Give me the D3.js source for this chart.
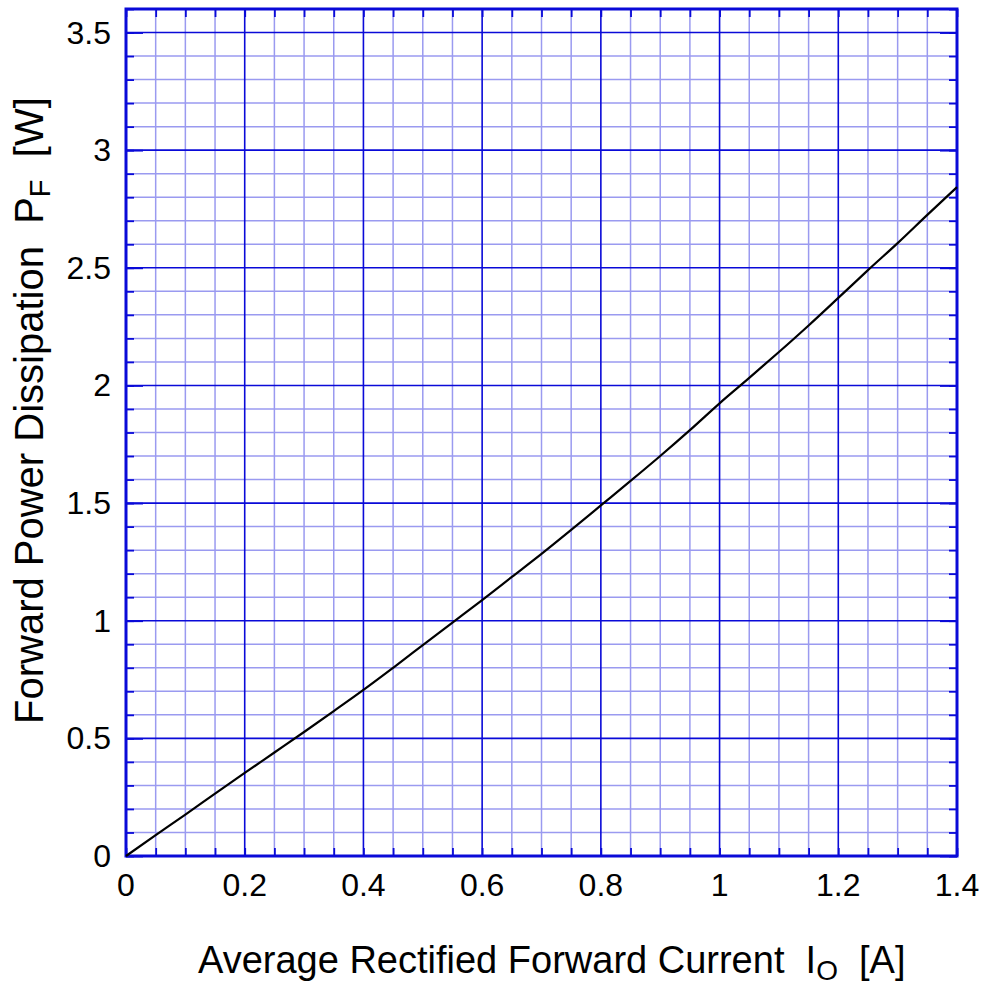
<!DOCTYPE html>
<html><head><meta charset="utf-8">
<script src="https://cdn.jsdelivr.net/npm/d3@7"></script>
<style>html,body{margin:0;padding:0;background:#fff;}svg{display:block;}text{white-space:pre;}</style>
</head><body>
<script>
const currentA = [0,0.05,0.1,0.15,0.2,0.25,0.3,0.35,0.4,0.45,0.5,0.55,0.6,0.65,0.7,0.75,0.8,0.85,0.9,0.95,1.0,1.05,1.1,1.15,1.2,1.25,1.3,1.35,1.4];
const powerW = [0,0.089,0.176,0.265,0.353,0.44,0.527,0.616,0.706,0.800,0.896,0.992,1.088,1.186,1.284,1.386,1.490,1.594,1.700,1.810,1.924,2.032,2.142,2.255,2.372,2.49,2.605,2.725,2.843];
const xTickValues = [0,0.2,0.4,0.6,0.8,1,1.2,1.4];
const xTickLabels = ["0","0.2","0.4","0.6","0.8","1","1.2","1.4"];
const yTickValues = [0,0.5,1,1.5,2,2.5,3,3.5];
const yTickLabels = ["0","0.5","1","1.5","2","2.5","3","3.5"];

const W=986,H=985;
const L=126,R=957,T=9,B=856;
const svg=d3.select("body").append("svg").attr("width",W).attr("height",H);
const x=d3.scaleLinear().domain([0,1.4]).range([L,R]);
const y=d3.scaleLinear().domain([0,3.6]).range([B,T]);
const major="#0a0ad8", minor="#9a9af0";
const font="'Liberation Sans', Arial, Helvetica, sans-serif";

const xMinor=d3.range(0,29).map(i=>i*0.05);
const yMinor=d3.range(0,37).map(i=>i*0.1);
const isMajX=v=>Math.abs(v/0.2-Math.round(v/0.2))<1e-6;
const isMajY=v=>Math.abs(v/0.5-Math.round(v/0.5))<1e-6;

const g=svg.append("g");
g.selectAll(".vx").data(xMinor.filter(v=>!isMajX(v))).join("line").attr("class","vx")
 .attr("x1",d=>x(d)).attr("x2",d=>x(d)).attr("y1",T).attr("y2",B)
 .attr("stroke",minor).attr("stroke-width",1.5);
g.selectAll(".hy").data(yMinor.filter(v=>!isMajY(v))).join("line").attr("class","hy")
 .attr("y1",d=>y(d)).attr("y2",d=>y(d)).attr("x1",L).attr("x2",R)
 .attr("stroke",minor).attr("stroke-width",1.5);
g.selectAll(".mx").data(xTickValues).join("line").attr("class","mx")
 .attr("x1",d=>x(d)).attr("x2",d=>x(d)).attr("y1",T).attr("y2",B)
 .attr("stroke",major).attr("stroke-width",1.6);
g.selectAll(".my").data(yTickValues).join("line").attr("class","my")
 .attr("y1",d=>y(d)).attr("y2",d=>y(d)).attr("x1",L).attr("x2",R)
 .attr("stroke",major).attr("stroke-width",1.6);

function styleAxis(sel){sel.select(".domain").remove();sel.selectAll("line").attr("stroke",major).attr("stroke-width",1.8);sel.selectAll("text").remove();}
svg.append("g").attr("transform",`translate(0,${B})`).call(d3.axisBottom(x).tickValues(xMinor).tickSizeInner(-8)).call(styleAxis);
svg.append("g").attr("transform",`translate(0,${T})`).call(d3.axisTop(x).tickValues(xMinor).tickSizeInner(-8)).call(styleAxis);
svg.append("g").attr("transform",`translate(${L},0)`).call(d3.axisLeft(y).tickValues(yMinor).tickSizeInner(-8)).call(styleAxis);
svg.append("g").attr("transform",`translate(${R},0)`).call(d3.axisRight(y).tickValues(yMinor).tickSizeInner(-8)).call(styleAxis);
svg.append("g").attr("transform",`translate(${L},0)`).call(d3.axisLeft(y).tickValues(yTickValues).tickSizeInner(-17)).call(styleAxis);
svg.append("g").attr("transform",`translate(${R},0)`).call(d3.axisRight(y).tickValues(yTickValues).tickSizeInner(-17)).call(styleAxis);

svg.append("rect").attr("x",L).attr("y",T).attr("width",R-L).attr("height",B-T)
 .attr("fill","none").attr("stroke",major).attr("stroke-width",3);

const data=currentA.map((c,i)=>[c,powerW[i]]);
svg.append("path").datum(data)
 .attr("d",d3.line().x(d=>x(d[0])).y(d=>y(d[1])).curve(d3.curveMonotoneX))
 .attr("fill","none").attr("stroke","#000").attr("stroke-width",2.2);

svg.append("g").selectAll("text").data(xTickValues).join("text")
 .attr("x",d=>x(d)).attr("y",896).attr("text-anchor","middle")
 .attr("font-family",font).attr("font-size",32).attr("fill","#000")
 .text((d,i)=>xTickLabels[i]);
svg.append("g").selectAll("text").data(yTickValues).join("text")
 .attr("x",111).attr("y",d=>y(d)+11).attr("text-anchor","end")
 .attr("font-family",font).attr("font-size",32).attr("fill","#000")
 .text((d,i)=>yTickLabels[i]);

const xt=svg.append("text").attr("x",198).attr("y",973).attr("text-anchor","start")
 .attr("font-family",font).attr("font-size",38).attr("fill","#000");
xt.append("tspan").text("Average Rectified Forward Current  I");
xt.append("tspan").attr("font-size",28).attr("dy",7).text("O");
xt.append("tspan").attr("dy",-7).text("  [A]");

const yt=svg.append("text").attr("transform","translate(43,724) rotate(-90)").attr("text-anchor","start")
 .attr("font-family",font).attr("font-size",40).attr("fill","#000");
yt.append("tspan").text("Forward Power Dissipation  P");
yt.append("tspan").attr("font-size",29).attr("dy",7).text("F");
yt.append("tspan").attr("dy",-7).text("  [W]");
</script>
</body></html>
